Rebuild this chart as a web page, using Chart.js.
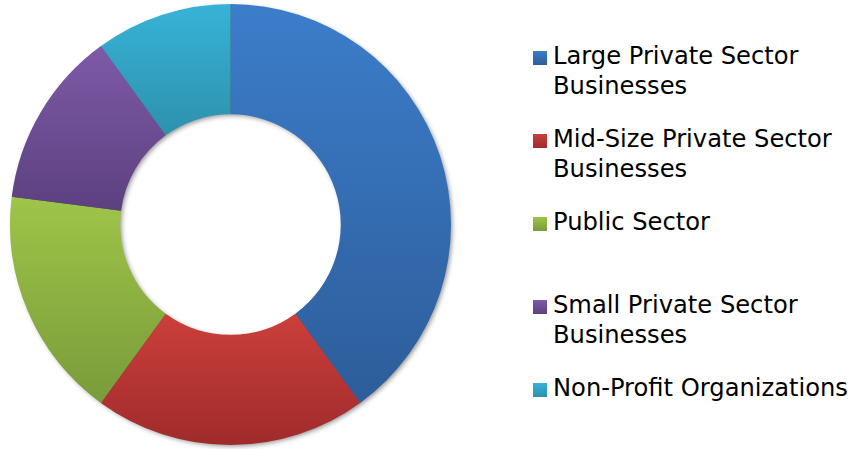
<!DOCTYPE html>
<html>
<head>
<meta charset="utf-8">
<script src="https://cdn.jsdelivr.net/npm/chart.js@4"></script>
<style>
  html, body { margin: 0; padding: 0; background: #fff; }
  #wrap { position: relative; width: 852px; height: 449px; overflow: hidden; }
  #pie { position: absolute; left: 0; top: 0; width: 461px; height: 449px; }
  #legend { position: absolute; left: 533px; top: 41px; width: 319px;
    font-family: "DejaVu Sans", Verdana, sans-serif; font-size: 24.2px; color: #000; }
  #legend .item { position: absolute; left: 0; display: flex; align-items: flex-start; }
  #legend .box { width: 14px; height: 14px; margin-top: 10px; margin-right: 6px; flex: none; }
  #legend .txt { line-height: 30px; width: 299px; }
</style>
</head>
<body>
<div id="wrap">
  <div id="pie"><canvas id="chartSectors"></canvas></div>
  <div id="legend"></div>
</div>
<script>
const sectors = ['Large Private Sector Businesses', 'Mid-Size Private Sector Businesses',
  'Public Sector', 'Small Private Sector Businesses', 'Non-Profit Organizations'];
const shares = [40, 20, 17, 13, 10];
// light (top) and dark (bottom) end of each slice gradient
const topColors = ['#3c7dca', '#cc3f3b', '#9ec548', '#7e5aa7', '#37b3d7'];
const bottomColors = ['#2d5d9a', '#9f2b2b', '#7a9b3a', '#5c4080', '#2d91ad'];

// fill every slice with a vertical gradient spanning its own height
const sliceGradients = {
  id: 'sliceGradients',
  afterDatasetsUpdate(chart) {
    const ctx = chart.ctx;
    chart.getDatasetMeta(0).data.forEach((arc, i) => {
      const p = arc.getProps(['x', 'y', 'startAngle', 'endAngle', 'outerRadius', 'innerRadius'], true);
      let minY = Infinity, maxY = -Infinity;
      for (let k = 0; k <= 60; k++) {
        const a = p.startAngle + (p.endAngle - p.startAngle) * k / 60;
        [p.outerRadius, p.innerRadius].forEach(r => {
          const yy = p.y + r * Math.sin(a);
          minY = Math.min(minY, yy);
          maxY = Math.max(maxY, yy);
        });
      }
      const g = ctx.createLinearGradient(0, minY, 0, maxY);
      g.addColorStop(0, topColors[i]);
      g.addColorStop(1, bottomColors[i]);
      arc.options = Object.assign({}, arc.options, {backgroundColor: g});
    });
  }
};

// soft drop shadow under the whole ring
const ringShadow = {
  id: 'ringShadow',
  beforeDatasetsDraw(chart) {
    const arc = chart.getDatasetMeta(0).data[0];
    if (!arc) return;
    const p = arc.getProps(['x', 'y', 'outerRadius', 'innerRadius'], true);
    const ctx = chart.ctx;
    ctx.save();
    ctx.shadowColor = 'rgba(0,0,0,0.45)';
    ctx.shadowBlur = 5;
    ctx.shadowOffsetX = 2;
    ctx.shadowOffsetY = 2;
    ctx.fillStyle = '#555';
    ctx.beginPath();
    ctx.arc(p.x, p.y, p.outerRadius - 1, 0, Math.PI * 2);
    ctx.arc(p.x, p.y, p.innerRadius + 1, 0, Math.PI * 2, true);
    ctx.fill();
    ctx.restore();
  }
};

new Chart(document.getElementById('chartSectors'), {
  type: 'doughnut',
  data: {
    labels: sectors,
    datasets: [{
      data: shares,
      backgroundColor: topColors,
      borderWidth: 0
    }]
  },
  options: {
    responsive: true,
    maintainAspectRatio: false,
    animation: false,
    cutout: '50%',
    layout: { padding: 4 },
    plugins: {
      legend: { display: false },
      tooltip: { enabled: false }
    }
  },
  plugins: [sliceGradients, ringShadow]
});

// legend on the right, one 83px slot per sector
const legend = document.getElementById('legend');
sectors.forEach((name, i) => {
  const item = document.createElement('div');
  item.className = 'item';
  item.style.top = (i * 83) + 'px';
  const box = document.createElement('div');
  box.className = 'box';
  box.style.background = 'linear-gradient(' + topColors[i] + ', ' + bottomColors[i] + ')';
  const txt = document.createElement('div');
  txt.className = 'txt';
  txt.textContent = name;
  item.appendChild(box);
  item.appendChild(txt);
  legend.appendChild(item);
});
</script>
</body>
</html>
